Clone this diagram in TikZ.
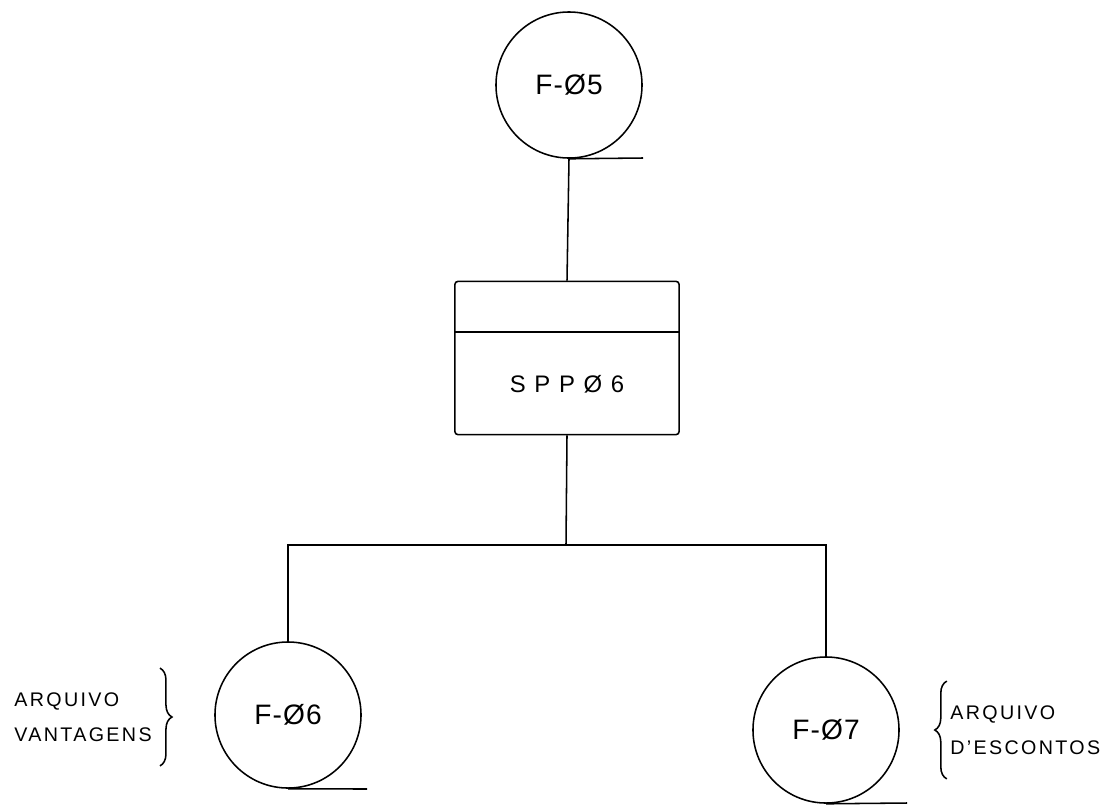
\documentclass[tikz,border=0pt]{standalone}
\usepackage{fontspec}
\setmainfont{Liberation Sans}
\usetikzlibrary{shapes.multipart,decorations.pathreplacing}

\begin{document}
\begin{tikzpicture}[x=0.025cm,y=-0.025cm]
\tikzset{
  filenode/.style={circle,draw,line width=1.1pt,minimum size=3.65cm,inner sep=0pt,
    font=\fontsize{20}{24}\selectfont\addfontfeatures{LetterSpace=4}},
  procnode/.style={rectangle split,rectangle split parts=2,draw,line width=1.1pt,
    rounded corners=2pt,minimum width=5.6cm,inner xsep=0pt,inner ysep=0pt,
    font=\fontsize{17}{20}\selectfont\addfontfeatures{LetterSpace=36}},
  notenode/.style={align=left,inner sep=0pt,minimum height=2.43cm,
    font=\fontsize{14}{24.5}\selectfont\addfontfeatures{LetterSpace=12}},
  link/.style={line width=1.1pt},
  notebrace/.style={line width=1.1pt,decorate,decoration={brace,amplitude=0.3cm}}
}
\useasboundingbox (0,0) rectangle (1106,805);
% files and program
\node[filenode] (f05) at (569,85) {F-Ø5};
\node[procnode] (spp06) at (567,358) {\rule{0pt}{1.225cm}\nodepart{two}\rule[-1.025cm]{0pt}{2.525cm}SPPØ6};
\node[filenode] (f06) at (288,715) {F-Ø6};
\node[filenode] (f07) at (826,730) {F-Ø7};
% notes
\node[notenode,anchor=west] (vantnote) at (14,717) {ARQUIVO\\VANTAGENS};
\node[notenode,anchor=west] (descnote) at (950,730) {ARQUIVO\\D'ESCONTOS};
% free ends
\coordinate (split) at (566,545);
\coordinate (f05tail) at (643,158);
\coordinate (f06tail) at (367,789);
\coordinate (f07tail) at (907,803);
% connectors
\draw[link] (f05.south) -- (spp06.north);
\draw[link] (f05.south) -- (f05tail);
\draw[link] (spp06.south) -- (split);
\draw[link] (f06.north) |- (split) -| (f07.north);
\draw[link] (f06.south) -- (f06tail);
\draw[link] (f07.south) -- (f07tail);
\draw[notebrace] ([xshift=0.2cm]vantnote.north east) -- ([xshift=0.2cm]vantnote.south east);
\draw[notebrace] ([xshift=-0.08cm]descnote.south west) -- ([xshift=-0.08cm]descnote.north west);
\end{tikzpicture}
\end{document}
